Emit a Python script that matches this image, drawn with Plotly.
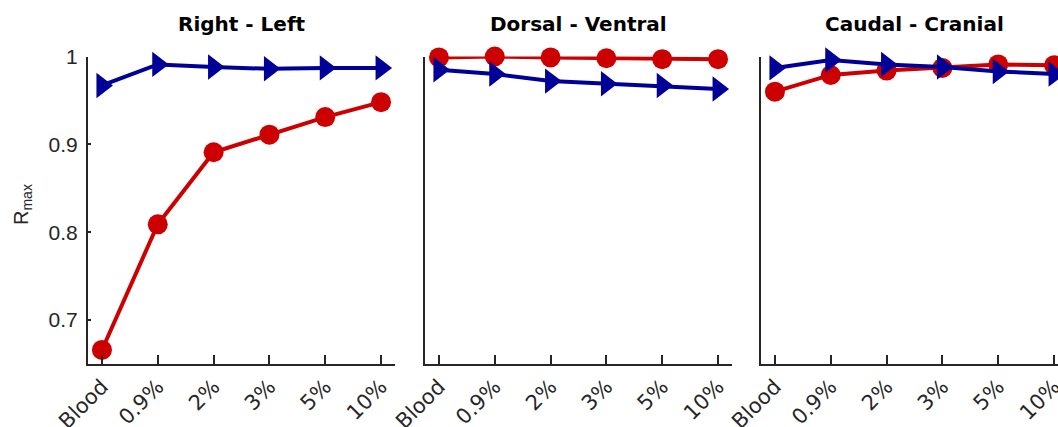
import plotly.graph_objects as go

categories = ["Blood", "0.9%", "2%", "3%", "5%", "10%"]
panel_titles = ["Right - Left", "Dorsal - Ventral", "Caudal - Cranial"]

red_right_left = [0.666, 0.809, 0.891, 0.911, 0.931, 0.948]
blue_right_left = [0.967, 0.991, 0.988, 0.986, 0.987, 0.987]

red_dorsal_ventral = [0.999, 1.000, 0.999, 0.998, 0.997, 0.997]
blue_dorsal_ventral = [0.985, 0.980, 0.972, 0.969, 0.967, 0.963]

red_caudal_cranial = [0.960, 0.979, 0.984, 0.987, 0.991, 0.990]
blue_caudal_cranial = [0.987, 0.996, 0.991, 0.988, 0.983, 0.980]

y_ticks = [0.7, 0.8, 0.9, 1.0]
y_tick_text = ["0.7", "0.8", "0.9", "1"]

W, H = 1058, 427
RED = "rgb(204,0,0)"
BLUE = "rgb(0,0,153)"
AX = "#262626"

# pixel layout
px_per_unit = 307 / 5.5
left_px = [88, 425, 761]
ydom = [1 - 364 / H, 1 - 56.5 / H]

fig = go.Figure()

reds = [red_right_left, red_dorsal_ventral, red_caudal_cranial]
blues = [blue_right_left, blue_dorsal_ventral, blue_caudal_cranial]

for i in range(3):
    xa = "x" if i == 0 else f"x{i+1}"
    ya = "y" if i == 0 else f"y{i+1}"
    fig.add_trace(go.Scatter(
        x=categories, y=reds[i], xaxis=xa, yaxis=ya, mode="lines+markers",
        line=dict(color=RED, width=4),
        marker=dict(symbol="circle", size=20, color=RED),
        cliponaxis=False, showlegend=False))
    fig.add_trace(go.Scatter(
        x=categories, y=blues[i], xaxis=xa, yaxis=ya, mode="lines+markers",
        line=dict(color=BLUE, width=4),
        marker=dict(symbol="triangle-right", size=22, color=BLUE),
        cliponaxis=False, showlegend=False))

layout = dict(
    width=W, height=H,
    margin=dict(l=0, r=0, t=0, b=0, autoexpand=False),
    paper_bgcolor="white", plot_bgcolor="white",
    showlegend=False,
)

for i in range(3):
    l = left_px[i]
    r = min(l + 307, W)
    xmax = -0.25 + (r - l) / px_per_unit
    xkey = "xaxis" if i == 0 else f"xaxis{i+1}"
    ykey = "yaxis" if i == 0 else f"yaxis{i+1}"
    ya = "y" if i == 0 else f"y{i+1}"
    xa = "x" if i == 0 else f"x{i+1}"
    layout[xkey] = dict(
        domain=[l / W, r / W], anchor=ya, type="category",
        categoryorder="array", categoryarray=categories,
        range=[-0.25, xmax], automargin=False,
        showline=True, linecolor=AX, linewidth=2,
        ticks="inside", ticklen=9, tickwidth=2, tickcolor=AX,
        tickangle=-45, showgrid=False, zeroline=False,
        tickfont=dict(family="DejaVu Sans", size=21, color=AX),
        ticklabelstandoff=0,
    )
    yd = dict(
        domain=ydom, anchor=xa, range=[0.65, 1.0], automargin=False,
        showline=True, linecolor=AX, linewidth=2,
        showgrid=False, zeroline=False,
        tickvals=y_ticks, ticktext=y_tick_text,
    )
    if i == 0:
        yd.update(ticks="inside", ticklen=3, tickwidth=2, tickcolor=AX,
                  tickfont=dict(family="Liberation Sans", size=21, color=AX),
                  ticklabelstandoff=4)
    else:
        yd.update(ticks="", showticklabels=False)
    layout[ykey] = yd

annotations = []
for i in range(3):
    l = left_px[i]
    cx = (l + l + 307) / 2
    annotations.append(dict(
        text=f"<b>{panel_titles[i]}</b>", x=cx / W, y=1 - 24 / H,
        xref="paper", yref="paper", xanchor="center", yanchor="middle",
        showarrow=False, font=dict(family="DejaVu Sans", size=20, color="black")))
annotations.append(dict(
    text="R<sub>max</sub>", x=22 / W, y=1 - 205 / H, xref="paper", yref="paper",
    xanchor="center", yanchor="middle", textangle=-90, showarrow=False,
    font=dict(family="Liberation Sans", size=20, color=AX)))
layout["annotations"] = annotations

fig.update_layout(**layout)
fig.write_html("out.html")
